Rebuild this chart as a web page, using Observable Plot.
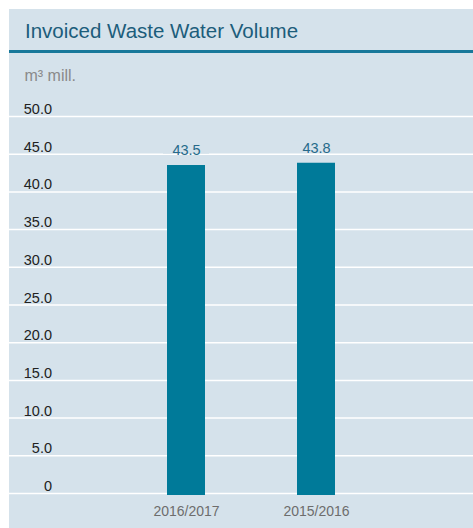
<!DOCTYPE html>
<html>
<head>
<meta charset="utf-8">
<script src="https://cdn.jsdelivr.net/npm/d3@7"></script>
<script src="https://cdn.jsdelivr.net/npm/@observablehq/plot@0.6"></script>
<style>
  html, body { margin: 0; padding: 0; background: #ffffff; }
  body { width: 473px; height: 528px; position: relative; overflow: hidden; font-family: "Liberation Sans", Arial, sans-serif; }
  #panel { position: absolute; left: 9px; top: 9px; width: 464px; height: 519px; background: #d5e2eb; }
  #title { position: absolute; left: 16px; top: 12px; font-size: 20.5px; line-height: 20px; color: #1c5d7b; white-space: nowrap; }
  #rule { position: absolute; left: 0; top: 40.5px; width: 464px; height: 3px; background: #18789a; }
  #unit { position: absolute; left: 15.5px; top: 59px; font-size: 16px; line-height: 16px; color: #8a8a8a; white-space: nowrap; }
  #chart { position: absolute; left: 0; top: 86px; }
</style>
</head>
<body>
<div id="panel">
  <div id="title">Invoiced Waste Water Volume</div>
  <div id="rule"></div>
  <div id="unit">m³ mill.</div>
  <div id="chart"></div>
</div>
<script>
const categories = ["2016/2017", "2015/2016"];
const values = [43.5, 43.8];
const yTicks = [0, 5, 10, 15, 20, 25, 30, 35, 40, 45, 50];
const yTickLabels = ["0", "5.0", "10.0", "15.0", "20.0", "25.0", "30.0", "35.0", "40.0", "45.0", "50.0"];

const data = categories.map((c, i) => ({category: c, value: values[i]}));
const ticks = yTicks.map((t, i) => ({t, label: yTickLabels[i]}));

const bg = "#d5e2eb";

const chart = Plot.plot({
  width: 464,
  height: 433,
  marginLeft: 0,
  marginRight: 0,
  marginTop: 21,
  marginBottom: 35,
  style: {background: "transparent", fontFamily: "Liberation Sans, Arial, sans-serif", fontSize: "14px"},
  x: {type: "band", domain: categories, range: [112, 372], paddingInner: 0.708, paddingOuter: 0.354, axis: null},
  y: {domain: [0, 50], axis: null},
  marks: [
    Plot.ruleY(yTicks, {stroke: "#ffffff", strokeWidth: 1.5}),
    Plot.barY(data, {x: "category", y1: "value", y2: "value", fill: bg, insetTop: -22, insetBottom: 11.3, insetLeft: -4, insetRight: -4}),
    Plot.barY(data, {x: "category", y: "value", fill: "#007a99", insetBottom: -2}),
    Plot.text(data, {x: "category", y: "value", text: d => d.value.toFixed(1), lineAnchor: "bottom", dy: -10.5, fill: "#266a8a", fontSize: 14.5}),
    Plot.text(ticks, {y: "t", text: "label", frameAnchor: "left", dx: 42.5, dy: -2.5, textAnchor: "end", lineAnchor: "bottom", fill: "#222222", fontSize: 14.5}),
    Plot.text(categories, {x: d => d, text: d => d, frameAnchor: "bottom", dy: 22, lineAnchor: "bottom", fill: "#6d6d6d", fontSize: 14})
  ]
});
document.getElementById("chart").appendChild(chart);
</script>
</body>
</html>
